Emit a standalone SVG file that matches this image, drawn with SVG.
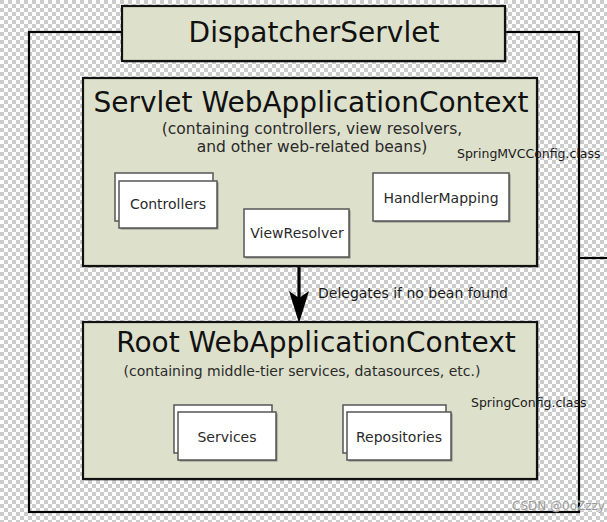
<svg xmlns="http://www.w3.org/2000/svg" width="607" height="522" viewBox="0 0 607 522">
<defs>
  <pattern id="checker" width="8" height="8" patternUnits="userSpaceOnUse">
    <rect width="8" height="8" fill="#ffffff"/>
    <rect width="4" height="4" fill="#cccccc"/>
    <rect x="4" y="4" width="4" height="4" fill="#cccccc"/>
  </pattern>
</defs>
<style>
  .ctx { fill: #dde0cb; stroke: #111; stroke-width: 2.2; }
  .shadow { fill: #555; opacity: 0.6; }
  .bean { fill: #fff; stroke: #555; stroke-width: 1.5; }
  .title { font-family: "DejaVu Sans", sans-serif; font-size: 28px; fill: #111; text-anchor: middle; }
  .sub { font-family: "DejaVu Sans", sans-serif; font-size: 14px; fill: #2a2a2a; text-anchor: middle; }
  .lbl { font-family: "DejaVu Sans", sans-serif; font-size: 14px; fill: #2a2a2a; text-anchor: middle; }
  .cfg { font-family: "DejaVu Sans", sans-serif; font-size: 12.5px; fill: #1a1a1a; }
  .conn { stroke: #000; stroke-width: 2.2; fill: none; }
</style>
<rect width="607" height="522" fill="url(#checker)"/>

<g id="connectors">
  <rect x="29" y="32" width="550" height="480" class="conn"/>
  <line x1="579" y1="258" x2="607" y2="258" class="conn"/>
  <line x1="299" y1="266" x2="299" y2="300" stroke="#000" stroke-width="3.2"/>
  <path d="M299,323 L289,291 L299,298 L309,291 Z" fill="#000"/>
  <text x="318" y="298" class="cfg" style="font-size:14px">Delegates if no bean found</text>
</g>

<g id="dispatcher-servlet">
  <rect x="123.5" y="7.5" width="383" height="55" class="shadow"/>
  <rect x="122" y="6" width="383" height="55" class="ctx"/>
  <text x="314" y="42" class="title">DispatcherServlet</text>
</g>

<g id="servlet-context">
  <rect x="84.5" y="79.5" width="454" height="188" class="shadow"/>
  <rect x="83" y="78" width="454" height="188" class="ctx"/>
  <text x="311" y="112" class="title">Servlet WebApplicationContext</text>
  <text x="312" y="134" class="sub" style="font-size:15.5px">(containing controllers, view resolvers,</text>
  <text x="312" y="152" class="sub" style="font-size:15.5px">and other web-related beans)</text>
  <text x="457" y="158" class="cfg">SpringMVCConfig.class</text>
</g>

<g id="controllers">
  <rect x="115" y="173" width="98" height="48" class="bean"/>
  <rect x="120.5" y="182.5" width="98" height="47" class="shadow"/>
  <rect x="119" y="181" width="98" height="47" class="bean"/>
  <text x="168" y="209" class="lbl">Controllers</text>
</g>

<g id="view-resolver">
  <rect x="245.5" y="210.5" width="105" height="48" class="shadow"/>
  <rect x="244" y="209" width="105" height="48" class="bean"/>
  <text x="297" y="238" class="lbl">ViewResolver</text>
</g>

<g id="handler-mapping">
  <rect x="374.5" y="174.5" width="136" height="48" class="shadow"/>
  <rect x="373" y="173" width="136" height="48" class="bean"/>
  <text x="441" y="203" class="lbl">HandlerMapping</text>
</g>

<g id="root-context">
  <rect x="84.5" y="323.5" width="454" height="157" class="shadow"/>
  <rect x="83" y="322" width="454" height="157" class="ctx"/>
  <text x="316" y="352" class="title">Root WebApplicationContext</text>
  <text x="302" y="376" class="sub">(containing middle-tier services, datasources, etc.)</text>
  <text x="471" y="407" class="cfg">SpringConfig.class</text>
</g>

<g id="services">
  <rect x="174" y="405" width="98" height="48" class="bean"/>
  <rect x="179.5" y="413.5" width="98" height="48" class="shadow"/>
  <rect x="178" y="412" width="98" height="48" class="bean"/>
  <text x="227" y="442" class="lbl">Services</text>
</g>

<g id="repositories">
  <rect x="343" y="405" width="103" height="48" class="bean"/>
  <rect x="348.5" y="413.5" width="104" height="48" class="shadow"/>
  <rect x="347" y="412" width="104" height="48" class="bean"/>
  <text x="399" y="442" class="lbl">Repositories</text>
</g>

<g id="watermark">
  <text x="512" y="510" font-family="DejaVu Sans, sans-serif" font-size="12" fill="#999" stroke="#fff" stroke-width="0.5" paint-order="stroke">CSDN @0oZzzy</text>
</g>
</svg>
